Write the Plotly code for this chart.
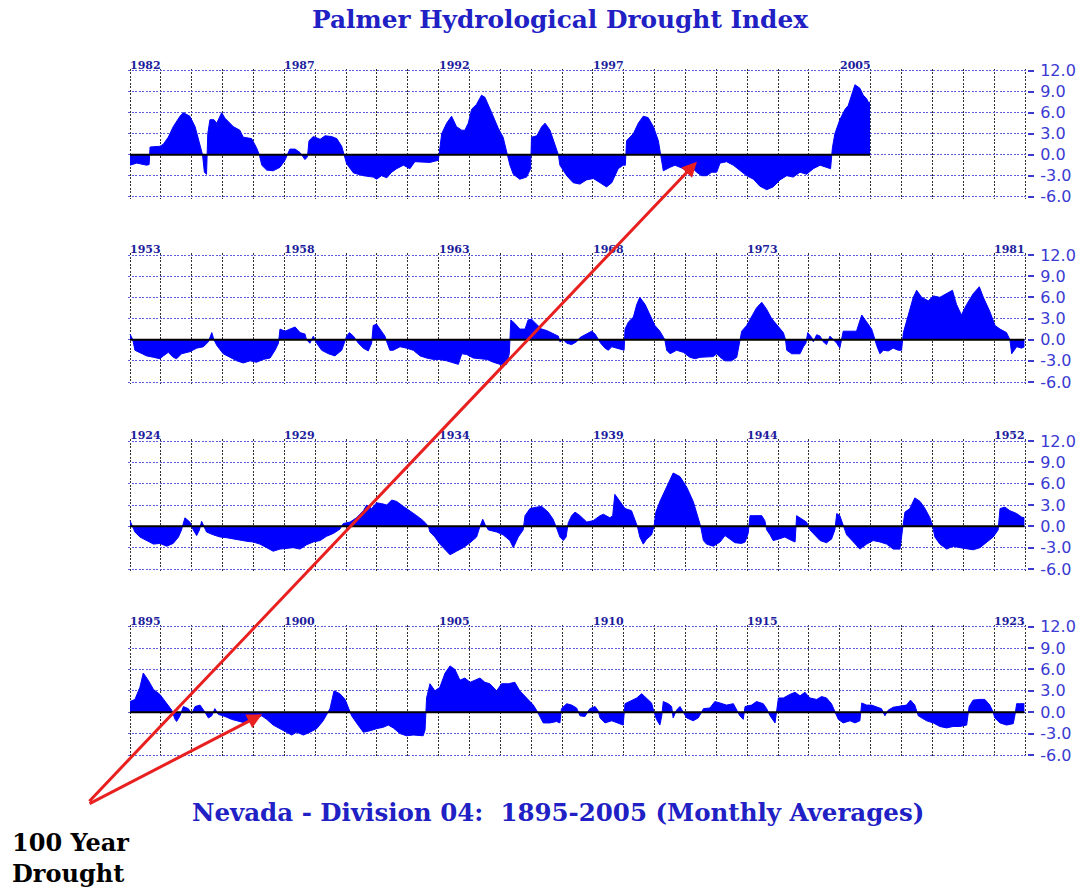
import plotly.graph_objects as go

# ---------------------------------------------------------------
# Palmer Hydrological Drought Index, Nevada Division 04, 1895-2005
# (monthly averages, sampled at turning points)
# ---------------------------------------------------------------

panel_starts = [1982, 1953, 1924, 1895]
panel_labels = [
    ["1982", "1987", "1992", "1997", "2005"],
    ["1953", "1958", "1963", "1968", "1973", "1981"],
    ["1924", "1929", "1934", "1939", "1944", "1952"],
    ["1895", "1900", "1905", "1910", "1915", "1923"],
]

years_1982_2005 = [
    1982.00, 1982.22, 1982.54, 1982.62, 1982.65, 1982.97, 1983.08, 1983.24, 1983.40, 1983.62,
    1983.73, 1983.94, 1984.11, 1984.27, 1984.35, 1984.41, 1984.48, 1984.52, 1984.59, 1984.72,
    1984.81, 1984.97, 1985.08, 1985.35, 1985.56, 1985.67, 1985.94, 1986.10, 1986.19, 1986.27,
    1986.43, 1986.64, 1986.86, 1987.02, 1987.18, 1987.35, 1987.51, 1987.67, 1987.75, 1987.80,
    1987.94, 1988.16, 1988.32, 1988.53, 1988.70, 1988.86, 1988.93, 1989.02, 1989.24, 1989.56,
    1989.88, 1989.99, 1990.15, 1990.32, 1990.48, 1990.64, 1990.86, 1991.07, 1991.23, 1991.45,
    1991.72, 1991.99, 1992.10, 1992.26, 1992.42, 1992.58, 1992.75, 1992.85, 1992.96, 1993.07,
    1993.23, 1993.39, 1993.50, 1993.72, 1993.93, 1994.09, 1994.22, 1994.31, 1994.42, 1994.63,
    1994.85, 1994.98, 1995.01, 1995.18, 1995.34, 1995.45, 1995.61, 1995.82, 1995.88, 1995.93,
    1996.15, 1996.36, 1996.58, 1996.79, 1997.01, 1997.23, 1997.44, 1997.61, 1997.71, 1997.82,
    1997.98, 1998.05, 1998.09, 1998.31, 1998.47, 1998.63, 1998.79, 1998.96, 1999.12, 1999.19,
    1999.28, 1999.50, 1999.66, 1999.82, 2000.04, 2000.20, 2000.36, 2000.52, 2000.68, 2000.85,
    2001.01, 2001.12, 2001.33, 2001.55, 2001.76, 2001.98, 2002.20, 2002.41, 2002.63, 2002.84,
    2003.06, 2003.28, 2003.49, 2003.71, 2003.92, 2004.14, 2004.36, 2004.57, 2004.70, 2004.76,
    2004.84, 2005.00, 2005.17, 2005.27, 2005.38, 2005.49, 2005.65, 2005.76, 2005.87, 2005.92,
    2005.98,
]
phdi_1982_2005 = [
    -1.5, -1.2, -1.5, -1.4, 1.1, 1.2, 1.5, 2.5, 4.0, 5.5,
    6.0, 5.5, 4.0, 1.5, 0.0, -2.5, -2.8, 3.0, 5.0, 5.0,
    4.5, 6.0, 5.2, 4.0, 3.5, 2.5, 2.3, 1.0, 0.0, -1.5,
    -2.2, -2.3, -1.8, -0.8, 0.8, 0.8, 0.3, -0.7, -0.3, 2.0,
    2.6, 2.2, 2.7, 2.6, 2.3, 1.2, 0.0, -1.3, -2.6, -3.0,
    -3.2, -3.5, -3.0, -3.3, -2.5, -2.0, -1.5, -2.0, -1.0, -1.0,
    -1.1, -0.8, 3.0, 4.5, 5.5, 4.0, 3.5, 3.5, 4.5, 6.5,
    7.2, 8.5, 8.2, 6.0, 3.8, 2.5, 0.0, -1.5, -2.8, -3.5,
    -3.2, -2.0, 2.5, 2.7, 4.0, 4.5, 3.5, 1.0, 0.0, -1.5,
    -3.0, -4.0, -4.2, -3.6, -3.4, -4.0, -4.6, -4.0, -3.0, -2.0,
    -1.5, -1.5, 2.0, 3.0, 4.5, 5.5, 5.3, 4.0, 2.0, 0.0,
    -2.3, -1.8, -1.5, -1.8, -2.2, -1.8, -2.5, -3.0, -3.0, -2.5,
    -2.5, -1.2, -1.0, -1.5, -2.3, -3.0, -3.5, -4.5, -5.0, -4.6,
    -3.6, -3.0, -3.2, -2.5, -2.8, -2.0, -1.5, -1.8, -2.0, 1.0,
    3.0, 5.0, 6.5, 7.0, 8.5, 10.0, 9.5, 8.5, 8.0, 7.5,
    7.5,
]

years_1953_1981 = [
    1953.00, 1953.09, 1953.16, 1953.32, 1953.54, 1953.76, 1953.97, 1954.08, 1954.24, 1954.40,
    1954.51, 1954.67, 1954.94, 1955.16, 1955.38, 1955.54, 1955.65, 1955.72, 1955.81, 1956.02,
    1956.24, 1956.46, 1956.67, 1956.89, 1957.10, 1957.32, 1957.54, 1957.70, 1957.81, 1957.86,
    1958.02, 1958.18, 1958.35, 1958.51, 1958.67, 1958.72, 1958.83, 1958.94, 1959.05, 1959.21,
    1959.43, 1959.64, 1959.86, 1960.02, 1960.11, 1960.24, 1960.40, 1960.56, 1960.72, 1960.83,
    1960.88, 1960.99, 1961.15, 1961.26, 1961.32, 1961.42, 1961.53, 1961.75, 1961.96, 1962.18,
    1962.40, 1962.61, 1962.83, 1963.04, 1963.26, 1963.47, 1963.64, 1963.75, 1963.91, 1964.12,
    1964.34, 1964.56, 1964.77, 1964.99, 1965.20, 1965.29, 1965.34, 1965.47, 1965.63, 1965.80,
    1965.90, 1966.01, 1966.17, 1966.34, 1966.50, 1966.71, 1966.88, 1966.93, 1967.04, 1967.15,
    1967.31, 1967.47, 1967.58, 1967.79, 1967.96, 1968.07, 1968.17, 1968.25, 1968.39, 1968.50,
    1968.61, 1968.77, 1968.93, 1969.01, 1969.04, 1969.15, 1969.31, 1969.42, 1969.52, 1969.69,
    1969.85, 1970.01, 1970.17, 1970.28, 1970.33, 1970.39, 1970.50, 1970.71, 1970.93, 1971.14,
    1971.31, 1971.47, 1971.68, 1971.90, 1972.01, 1972.12, 1972.28, 1972.49, 1972.66, 1972.74,
    1972.82, 1972.98, 1973.14, 1973.30, 1973.47, 1973.63, 1973.79, 1974.01, 1974.17, 1974.24,
    1974.28, 1974.44, 1974.71, 1974.82, 1974.90, 1974.96, 1975.09, 1975.14, 1975.25, 1975.36,
    1975.46, 1975.57, 1975.68, 1975.79, 1975.90, 1976.00, 1976.11, 1976.33, 1976.54, 1976.71,
    1976.87, 1977.03, 1977.14, 1977.19, 1977.30, 1977.41, 1977.57, 1977.73, 1977.89, 1978.00,
    1978.06, 1978.22, 1978.38, 1978.49, 1978.65, 1978.87, 1979.03, 1979.24, 1979.46, 1979.65,
    1979.78, 1979.94, 1980.11, 1980.32, 1980.52, 1980.65, 1980.86, 1981.03, 1981.19, 1981.40,
    1981.51, 1981.57, 1981.73, 1981.89, 1981.98,
]
phdi_1953_1981 = [
    0.8, 0.0, -1.5, -1.8, -2.3, -2.5, -2.7, -2.3, -1.8, -2.5,
    -2.7, -2.0, -1.7, -1.2, -1.0, -0.3, 1.0, 0.0, -0.8, -2.0,
    -2.5, -3.0, -3.3, -3.0, -3.2, -2.8, -2.6, -1.5, -0.5, 1.5,
    1.2, 1.5, 1.8, 1.0, 0.8, 0.0, -0.5, 0.5, -0.5, -1.5,
    -2.0, -2.3, -1.5, 0.5, 1.0, 0.5, -0.5, -1.2, -1.6, -0.5,
    2.0, 2.2, 1.2, 0.5, -0.3, -1.5, -1.5, -1.0, -1.2, -1.5,
    -2.3, -2.6, -2.8, -2.8, -3.0, -3.3, -3.5, -2.0, -2.1, -2.6,
    -2.7, -2.8, -3.2, -3.5, -3.5, -2.0, 2.8, 2.3, 1.5, 1.5,
    2.8, 2.9, 2.2, 1.5, 1.3, 0.8, 0.5, -0.3, 0.0, -0.5,
    -0.7, -0.3, 0.3, 0.8, 1.2, 0.8, 0.0, -0.5, -1.2, -1.5,
    -1.0, -1.2, -1.5, -1.5, 1.5, 2.5, 3.2, 5.0, 6.0, 5.0,
    3.5, 2.0, 1.2, 0.5, 0.0, -1.5, -2.0, -1.5, -1.8, -2.5,
    -2.7, -2.5, -2.5, -2.4, -2.0, -2.5, -3.0, -3.0, -2.5, -0.5,
    1.2, 2.0, 3.3, 4.5, 5.3, 4.3, 3.0, 1.8, 1.0, 0.0,
    -1.5, -2.0, -2.0, -1.0, -0.5, 1.0, 0.3, -0.3, 0.7, 0.5,
    -0.3, -0.7, 0.5, 0.0, -0.5, -1.2, 1.2, 1.2, 1.2, 3.5,
    2.5, 1.5, 0.0, -0.8, -2.0, -1.5, -1.6, -1.2, -1.5, -1.5,
    1.0, 3.5, 6.0, 7.0, 6.0, 5.5, 6.2, 6.0, 6.5, 7.0,
    5.0, 3.5, 5.0, 6.5, 7.5, 6.0, 4.0, 2.0, 1.5, 1.0,
    0.0, -2.0, -1.0, -1.2, -1.0,
]

years_1924_1952 = [
    1924.00, 1924.09, 1924.16, 1924.32, 1924.54, 1924.76, 1924.97, 1925.19, 1925.40, 1925.57,
    1925.67, 1925.78, 1925.94, 1926.05, 1926.16, 1926.25, 1926.32, 1926.40, 1926.48, 1926.70,
    1926.92, 1927.13, 1927.35, 1927.56, 1927.78, 1927.99, 1928.21, 1928.43, 1928.64, 1928.86,
    1929.08, 1929.29, 1929.51, 1929.72, 1929.94, 1930.16, 1930.37, 1930.59, 1930.80, 1930.91,
    1931.13, 1931.34, 1931.56, 1931.67, 1931.83, 1931.99, 1932.15, 1932.32, 1932.48, 1932.64,
    1932.86, 1933.07, 1933.29, 1933.50, 1933.67, 1933.72, 1933.88, 1934.04, 1934.21, 1934.37,
    1934.58, 1934.80, 1935.02, 1935.23, 1935.34, 1935.43, 1935.50, 1935.61, 1935.88, 1936.09,
    1936.31, 1936.42, 1936.58, 1936.74, 1936.80, 1936.96, 1937.17, 1937.34, 1937.55, 1937.71,
    1937.82, 1937.93, 1938.04, 1938.13, 1938.20, 1938.31, 1938.42, 1938.58, 1938.80, 1939.01,
    1939.23, 1939.34, 1939.55, 1939.64, 1939.71, 1939.88, 1940.04, 1940.25, 1940.39, 1940.44,
    1940.52, 1940.63, 1940.74, 1940.90, 1940.98, 1941.04, 1941.17, 1941.39, 1941.60, 1941.82,
    1942.04, 1942.25, 1942.41, 1942.49, 1942.58, 1942.68, 1942.90, 1943.12, 1943.28, 1943.44,
    1943.60, 1943.82, 1943.93, 1944.03, 1944.09, 1944.20, 1944.47, 1944.57, 1944.63, 1944.74,
    1944.84, 1945.01, 1945.22, 1945.44, 1945.55, 1945.60, 1945.76, 1945.92, 1946.03, 1946.19,
    1946.36, 1946.57, 1946.73, 1946.84, 1946.90, 1947.00, 1947.11, 1947.22, 1947.44, 1947.65,
    1947.87, 1948.08, 1948.30, 1948.52, 1948.73, 1948.95, 1949.03, 1949.11, 1949.27, 1949.43,
    1949.60, 1949.76, 1949.92, 1950.01, 1950.08, 1950.24, 1950.46, 1950.67, 1950.89, 1951.11,
    1951.32, 1951.54, 1951.75, 1951.97, 1952.13, 1952.19, 1952.35, 1952.51, 1952.73, 1952.89,
    1952.98,
]
phdi_1924_1952 = [
    0.8, 0.0, -0.8, -1.5, -2.0, -2.5, -2.4, -2.8, -2.4, -1.5,
    -0.5, 1.2, 0.6, -0.5, -1.3, -0.5, 0.7, 0.0, -0.8, -1.2,
    -1.5, -1.6, -1.8, -2.0, -2.1, -2.2, -2.5, -3.0, -3.5, -3.2,
    -3.1, -3.0, -3.2, -2.6, -2.2, -2.0, -1.4, -1.0, -0.4, 0.4,
    0.6, 1.2, 2.2, 3.0, 2.5, 3.3, 3.2, 3.0, 3.7, 3.5,
    2.8, 2.2, 1.5, 0.8, 0.0, -0.8, -1.5, -2.5, -3.3, -4.0,
    -3.5, -3.0, -2.3, -1.5, 0.0, 1.0, 0.3, -0.5, -0.8, -1.2,
    -2.0, -3.0, -1.5, -0.5, 1.5, 2.5, 2.7, 2.8, 2.0, 1.0,
    -0.2, -1.5, -2.0, -1.5, 0.5, 1.5, 2.0, 1.5, 0.6, 0.8,
    1.5, 1.7, 1.2, 1.5, 4.5, 3.5, 2.5, 2.2, 0.5, 0.0,
    -1.5, -2.5, -1.8, -1.2, 0.0, 2.0, 3.5, 5.5, 7.5, 7.0,
    5.5, 3.5, 1.0, 0.0, -2.0, -2.5, -2.8, -2.2, -1.3, -1.8,
    -2.3, -2.4, -2.2, -1.0, 1.5, 1.5, 1.5, 0.8, -0.5, -1.2,
    -2.0, -1.8, -1.5, -2.0, -2.2, 1.5, 1.0, 0.6, -0.5, -1.2,
    -2.0, -2.3, -1.8, -0.5, 1.8, 1.5, 0.0, -1.2, -2.2, -3.2,
    -2.5, -2.0, -2.2, -2.5, -3.2, -3.2, -0.5, 2.0, 2.5, 4.0,
    3.5, 2.5, 1.2, 0.0, -1.5, -2.5, -3.2, -2.8, -3.0, -3.2,
    -3.3, -3.0, -2.3, -1.5, -0.5, 2.5, 2.7, 2.2, 1.8, 1.3,
    1.2,
]

years_1895_1923 = [
    1895.00, 1895.16, 1895.32, 1895.43, 1895.59, 1895.76, 1895.97, 1896.19, 1896.35, 1896.46,
    1896.51, 1896.62, 1896.73, 1896.89, 1897.00, 1897.11, 1897.27, 1897.43, 1897.54, 1897.65,
    1897.75, 1897.86, 1898.08, 1898.29, 1898.51, 1898.73, 1898.94, 1899.10, 1899.27, 1899.43,
    1899.64, 1899.86, 1900.08, 1900.24, 1900.40, 1900.62, 1900.83, 1901.05, 1901.26, 1901.39,
    1901.48, 1901.61, 1901.80, 1901.97, 1902.07, 1902.18, 1902.34, 1902.56, 1902.78, 1902.99,
    1903.21, 1903.37, 1903.53, 1903.75, 1903.96, 1904.18, 1904.50, 1904.56, 1904.61, 1904.72,
    1904.88, 1905.04, 1905.21, 1905.37, 1905.53, 1905.69, 1905.85, 1906.02, 1906.18, 1906.34,
    1906.50, 1906.66, 1906.88, 1907.04, 1907.26, 1907.47, 1907.63, 1907.85, 1908.07, 1908.17,
    1908.28, 1908.39, 1908.61, 1908.82, 1908.93, 1908.98, 1909.15, 1909.31, 1909.47, 1909.58,
    1909.74, 1909.90, 1910.07, 1910.17, 1910.23, 1910.39, 1910.61, 1910.82, 1910.98, 1911.04,
    1911.20, 1911.42, 1911.58, 1911.74, 1911.90, 1911.98, 1912.06, 1912.17, 1912.23, 1912.28,
    1912.44, 1912.55, 1912.60, 1912.71, 1912.82, 1912.93, 1913.04, 1913.25, 1913.41, 1913.52,
    1913.58, 1913.79, 1913.95, 1914.12, 1914.33, 1914.55, 1914.66, 1914.76, 1914.87, 1914.93,
    1915.14, 1915.30, 1915.52, 1915.63, 1915.74, 1915.90, 1916.01, 1916.17, 1916.38, 1916.55,
    1916.71, 1916.87, 1917.03, 1917.25, 1917.41, 1917.57, 1917.73, 1917.84, 1917.95, 1918.11,
    1918.33, 1918.49, 1918.65, 1918.71, 1918.87, 1919.03, 1919.19, 1919.35, 1919.46, 1919.57,
    1919.73, 1919.95, 1920.16, 1920.29, 1920.43, 1920.54, 1920.81, 1921.03, 1921.24, 1921.46,
    1921.67, 1921.89, 1922.11, 1922.19, 1922.32, 1922.54, 1922.70, 1922.86, 1922.97, 1923.02,
    1923.19, 1923.40, 1923.62, 1923.67, 1923.73, 1923.83, 1923.98,
]
phdi_1895_1923 = [
    1.5, 1.8, 3.5, 5.5, 4.5, 3.2, 2.5, 1.2, 0.3, -1.0,
    -1.3, -0.5, 0.8, 0.5, -0.2, 0.8, 1.0, 0.0, -0.8, -0.5,
    0.5, -0.3, -0.6, -1.0, -1.3, -1.5, -1.2, -0.8, -0.5, -1.0,
    -1.8, -2.3, -2.8, -3.2, -2.8, -3.2, -2.8, -2.3, -1.2, -0.3,
    0.5, 3.0, 2.6, 1.8, 0.8, -0.5, -1.5, -2.8, -2.6, -2.3,
    -2.1, -1.8, -2.2, -3.0, -3.3, -3.2, -3.3, -2.5, 2.0, 4.0,
    3.0, 3.5, 5.5, 6.5, 6.0, 4.5, 4.8, 4.2, 4.5, 4.8,
    4.2, 4.0, 3.0, 4.0, 4.0, 4.2, 3.0, 2.0, 1.0, 0.3,
    -0.5, -1.5, -1.5, -1.3, -1.5, 0.5, 1.2, 1.0, 0.6, -0.5,
    -0.6, 0.5, 0.8, 0.2, -0.8, -1.5, -1.2, -1.5, -1.8, 1.2,
    1.5, 2.0, 2.6, 2.0, 1.3, 0.0, -1.0, -1.8, -0.5, 1.5,
    1.2, 0.8, -0.8, 0.3, 0.8, 0.0, -0.8, -1.2, -0.8, 0.0,
    0.5, 0.6, 1.5, 1.3, 1.0, 1.2, 0.2, -0.5, -1.0, 0.8,
    1.0, 1.5, 1.2, 0.5, -0.5, -1.5, 2.0, 2.0, 2.5, 2.8,
    2.3, 2.8, 2.0, 1.8, 2.2, 2.0, 1.2, 0.0, -1.0, -1.5,
    -1.2, -1.5, -1.2, 1.3, 1.0, 1.0, 0.8, 0.5, -0.5, 0.3,
    0.7, 0.8, 1.0, 1.7, 1.0, -0.5, -1.2, -1.5, -2.0, -2.2,
    -2.0, -2.0, -1.8, 0.8, 1.7, 1.8, 1.8, 1.0, 0.0, -0.8,
    -1.5, -1.8, -1.6, -0.5, 1.2, 1.2, 1.2,
]

panel_years = [years_1982_2005, years_1953_1981, years_1924_1952, years_1895_1923]
panel_phdi = [phdi_1982_2005, phdi_1953_1981, phdi_1924_1952, phdi_1895_1923]

y_ticks = [-6, -3, 0, 3, 6, 9, 12]
y_ticktext = ["-6.0", "-3.0", "0.0", "3.0", "6.0", "9.0", "12.0"]
span_years = 29
y_lo, y_hi = -6, 12

# ------------------------------ styling ------------------------------
W, H = 1081, 893
FILL_BLUE = "#0000ff"
TEXT_BLUE = "#2020c4"
LABEL_BLUE = "#1c1c9c"
TICK_BLUE = "#3a3ad2"
HGRID = "#5c5cdc"
VGRID = "#303030"
DOTS = "2px,1.5px"
EDGE_PAD = 2.0  # px of slack so the frame grid lines are drawn

plot_left, plot_right = 130, 1025
panel_tops = [70.7, 255.0, 441.0, 626.7]
panel_bottoms = [196.7, 382.0, 569.0, 755.0]

fig = go.Figure()
layout = dict(
    width=W, height=H,
    margin=dict(l=0, r=0, t=0, b=0, pad=0, autoexpand=False),
    paper_bgcolor="white", plot_bgcolor="white",
    showlegend=False,
)

annotations = []
x_pad = EDGE_PAD * span_years / (plot_right - plot_left)
for i in range(4):
    n = "" if i == 0 else str(i + 1)
    xa, ya = "x" + n, "y" + n
    start = panel_starts[i]
    yrs, vals = panel_years[i], panel_phdi[i]
    top, bot = panel_tops[i], panel_bottoms[i]
    y_pad = EDGE_PAD * (y_hi - y_lo) / (bot - top)

    fig.add_trace(go.Scatter(
        x=yrs, y=vals, xaxis=xa, yaxis=ya, mode="lines",
        fill="tozeroy", fillcolor=FILL_BLUE,
        line=dict(color=FILL_BLUE, width=1), hoverinfo="skip",
    ))
    # solid baseline under the plotted record
    fig.add_trace(go.Scatter(
        x=[yrs[0], yrs[-1]], y=[0, 0], xaxis=xa, yaxis=ya, mode="lines",
        line=dict(color="black", width=2), hoverinfo="skip",
    ))

    layout["xaxis" + n] = dict(
        domain=[(plot_left - EDGE_PAD) / W, (plot_right + EDGE_PAD) / W], anchor=ya,
        range=[start - x_pad, start + span_years + x_pad],
        tickmode="linear", tick0=start, dtick=1, automargin=False,
        showgrid=True, gridcolor=VGRID, gridwidth=1.3, griddash=DOTS,
        showticklabels=False, ticks="", zeroline=False, showline=False, fixedrange=True,
    )
    layout["yaxis" + n] = dict(
        domain=[1 - (bot + EDGE_PAD) / H, 1 - (top - EDGE_PAD) / H], anchor=xa,
        range=[y_lo - y_pad, y_hi + y_pad], side="right", tickmode="array",
        tickvals=y_ticks, ticktext=y_ticktext, automargin=False,
        ticks="outside", ticklen=6, tickwidth=2, tickcolor=TICK_BLUE,
        ticklabelstandoff=3,
        tickfont=dict(family="DejaVu Sans", size=16, color=TICK_BLUE),
        showgrid=True, gridcolor=HGRID, gridwidth=1.3, griddash=DOTS,
        zeroline=False, showline=False, fixedrange=True,
    )

    for lab in panel_labels[i]:
        annotations.append(dict(
            x=int(lab), y=y_hi, xref=xa, yref=ya, text="<b>" + lab + "</b>",
            showarrow=False, xanchor="left", yanchor="bottom", yshift=-3, xshift=-2,
            font=dict(family="DejaVu Serif", size=11, color=LABEL_BLUE),
        ))

annotations.append(dict(
    x=560 / W, y=1 - 20 / H, xref="paper", yref="paper",
    text="<b>Palmer Hydrological Drought Index</b>", showarrow=False,
    xanchor="center", yanchor="middle",
    font=dict(family="DejaVu Serif", size=24.8, color=TEXT_BLUE),
))
annotations.append(dict(
    x=558 / W, y=1 - 812 / H, xref="paper", yref="paper",
    text="<b>Nevada - Division 04:\u00a0 1895-2005 (Monthly Averages)</b>", showarrow=False,
    xanchor="center", yanchor="middle",
    font=dict(family="DejaVu Serif", size=24.5, color=TEXT_BLUE),
))
annotations.append(dict(
    x=10 / W, y=1 - 858 / H, xref="paper", yref="paper",
    text="<b>100 Year<br>Drought</b>", showarrow=False, align="left",
    xanchor="left", yanchor="middle",
    font=dict(family="DejaVu Serif", size=24, color="black"),
))

# arrows pointing at the drought stretches
annotations.append(dict(
    x=2000.37, y=-1.0, xref="x", yref="y", text="", showarrow=True,
    ax=-609, ay=641, arrowhead=2, arrowsize=1, arrowwidth=3, arrowcolor="#e82020",
))
annotations.append(dict(
    x=1899.28, y=-0.3, xref="x4", yref="y4", text="", showarrow=True,
    ax=-174, ay=90, arrowhead=2, arrowsize=1, arrowwidth=3, arrowcolor="#e82020",
))

layout["annotations"] = annotations
fig.update_layout(**layout)
fig.write_html("out.html")
